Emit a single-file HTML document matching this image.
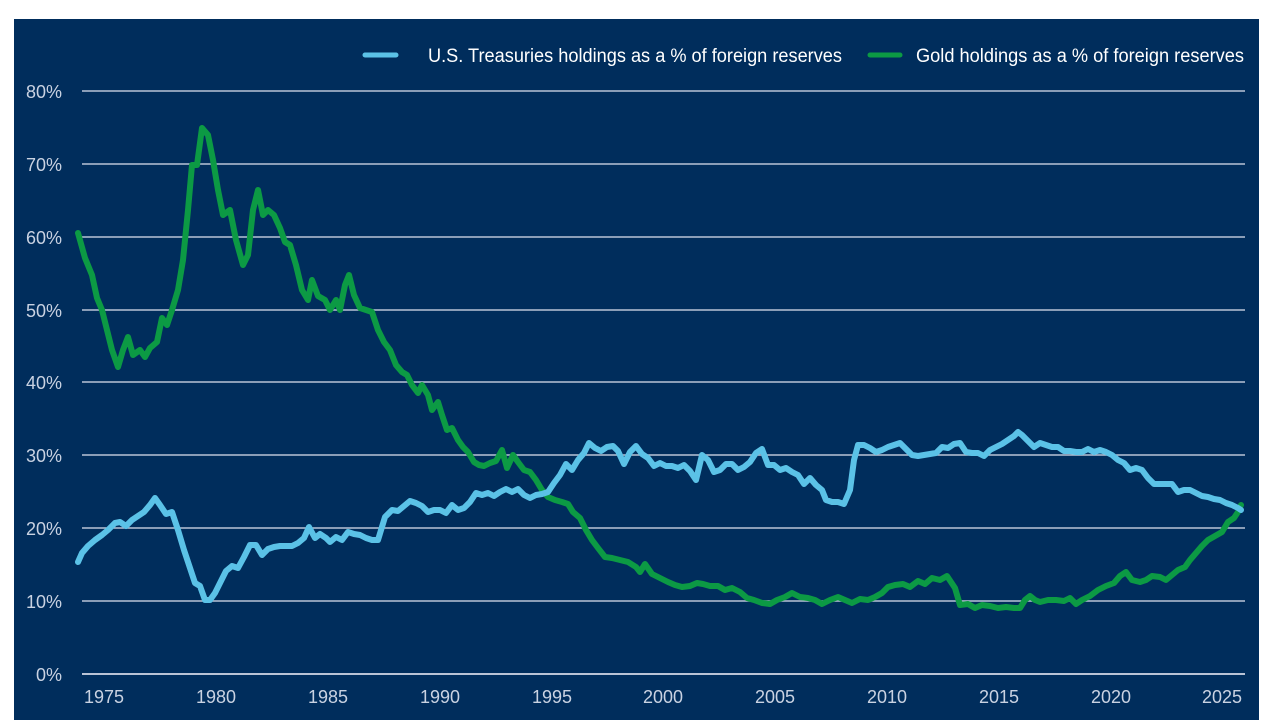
<!DOCTYPE html>
<html><head><meta charset="utf-8"><style>
html,body{margin:0;padding:0;background:#fff;width:1280px;height:720px;overflow:hidden}
svg{display:block}
text{font-family:"Liberation Sans Narrow","Liberation Sans",sans-serif;}
</style></head><body>
<svg width="1280" height="720" viewBox="0 0 1280 720">
<rect x="14" y="19" width="1245" height="701" fill="#002d5c"/>
<g stroke="#b9c3d6" stroke-width="1.5">
<line x1="82" x2="1245" y1="91" y2="91"/>
<line x1="82" x2="1245" y1="164" y2="164"/>
<line x1="82" x2="1245" y1="237" y2="237"/>
<line x1="82" x2="1245" y1="310" y2="310"/>
<line x1="82" x2="1245" y1="382" y2="382"/>
<line x1="82" x2="1245" y1="455" y2="455"/>
<line x1="82" x2="1245" y1="528" y2="528"/>
<line x1="82" x2="1245" y1="601" y2="601"/>
<line x1="82" x2="1245" y1="674" y2="674" stroke-width="2"/>
</g>
<g fill="#c9d2e2" font-size="18" text-anchor="end">
<text x="62" y="98">80%</text><text x="62" y="171">70%</text><text x="62" y="244">60%</text>
<text x="62" y="317">50%</text><text x="62" y="389">40%</text><text x="62" y="462">30%</text>
<text x="62" y="535">20%</text><text x="62" y="608">10%</text><text x="62" y="681">0%</text>
</g>
<g fill="#c9d2e2" font-size="18" text-anchor="middle">
<text x="104" y="703">1975</text><text x="216" y="703">1980</text><text x="328" y="703">1985</text>
<text x="440" y="703">1990</text><text x="552" y="703">1995</text><text x="663" y="703">2000</text>
<text x="775" y="703">2005</text><text x="887" y="703">2010</text><text x="999" y="703">2015</text>
<text x="1111" y="703">2020</text><text x="1222" y="703">2025</text>
</g>
<line x1="365" x2="396" y1="55" y2="55" stroke="#5bc2e7" stroke-width="5" stroke-linecap="round"/>
<text x="428" y="62" fill="#fff" font-size="19" textLength="414" lengthAdjust="spacingAndGlyphs">U.S. Treasuries holdings as a % of foreign reserves</text>
<line x1="870" x2="900" y1="55" y2="55" stroke="#0c9a44" stroke-width="5" stroke-linecap="round"/>
<text x="916" y="62" fill="#fff" font-size="19" textLength="328" lengthAdjust="spacingAndGlyphs">Gold holdings as a % of foreign reserves</text>
<g fill="none" stroke-width="6" stroke-linejoin="round" stroke-linecap="round">
<polyline stroke="#0c9a44" points="78,233 85,258 92,275 97,298 102,310 107,330 112,350 118,367 123,350 128,337 133,355 140,350 145,357 150,348 157,342 162,318 167,325 172,310 178,290 183,260 188,210 192,165 197,165 202,128 208,135 213,160 218,190 223,215 230,210 236,240 243,265 248,255 253,210 258,190 263,215 268,210 274,215 280,228 285,242 290,245 296,265 302,290 308,300 312,280 318,296 325,300 330,310 336,300 340,310 345,285 349,275 354,295 360,308 366,310 372,312 378,330 384,342 390,350 396,365 402,372 407,375 412,385 418,393 422,385 428,395 432,410 438,402 442,415 447,430 452,428 458,440 463,447 468,452 474,462 479,465 484,466 490,463 496,461 502,450 507,468 513,455 518,462 524,470 530,472 536,480 542,490 548,497 555,500 562,502 568,504 573,512 580,518 586,530 592,540 598,548 605,557 612,558 620,560 628,562 636,567 640,572 645,564 652,574 660,578 668,582 675,585 682,587 690,586 697,583 703,584 710,586 718,586 725,590 732,588 740,592 747,598 754,600 762,603 770,604 777,600 785,597 792,593 800,597 808,598 815,600 822,604 830,600 838,597 845,600 852,603 860,599 868,600 875,597 882,593 888,587 895,585 903,584 910,587 918,581 925,584 932,578 940,580 947,576 955,588 960,605 968,604 975,608 982,605 990,606 998,608 1006,607 1014,608 1020,608 1025,600 1030,596 1035,600 1040,602 1048,600 1056,600 1064,601 1070,598 1076,604 1082,600 1090,596 1098,590 1106,586 1114,583 1120,576 1126,572 1132,580 1140,582 1146,580 1152,576 1160,577 1166,580 1172,575 1178,570 1185,567 1190,560 1196,553 1202,546 1208,540 1215,536 1222,532 1228,522 1234,518 1238,512 1241,505"/>
<polyline stroke="#5bc2e7" points="78,562 82,553 88,546 95,540 102,535 108,530 115,523 120,522 126,526 132,520 138,516 144,512 150,505 155,498 160,505 166,514 172,512 178,530 184,550 190,568 195,583 200,586 205,600 210,600 215,593 220,583 226,571 232,566 238,568 244,557 250,545 256,545 262,555 268,549 274,547 280,546 286,546 292,546 298,543 304,538 309,527 315,538 320,534 326,538 330,542 336,537 342,540 348,532 354,534 360,535 366,538 372,540 378,540 385,517 392,510 398,511 404,506 410,501 416,503 422,506 428,512 434,510 440,510 446,513 452,505 458,510 464,508 470,502 476,493 482,495 488,493 494,496 500,492 506,489 512,492 518,489 524,495 530,498 536,495 542,494 548,492 554,483 560,475 566,464 572,470 578,460 584,453 589,443 595,448 601,451 607,447 613,446 618,451 624,464 630,452 636,446 642,454 648,458 654,466 660,463 666,466 672,466 678,468 684,465 690,471 696,480 702,455 708,460 714,472 720,470 726,464 732,464 738,470 744,467 750,462 756,453 762,449 768,465 774,465 780,470 786,468 792,472 798,475 804,484 810,478 816,485 822,490 826,500 832,502 838,502 844,504 850,490 854,460 858,445 864,445 870,448 876,452 882,450 888,447 894,445 900,443 906,449 912,455 918,456 924,455 930,454 936,453 942,447 948,448 954,444 960,443 966,452 972,453 978,453 984,456 990,450 996,447 1002,444 1008,440 1014,436 1018,432 1022,435 1028,441 1034,447 1040,443 1046,445 1052,447 1058,447 1064,451 1070,451 1076,452 1082,452 1088,449 1094,452 1100,450 1106,452 1112,455 1118,460 1124,463 1130,470 1136,468 1142,470 1148,478 1154,484 1160,484 1166,484 1172,484 1178,492 1184,490 1190,490 1196,493 1202,496 1208,497 1214,499 1220,500 1226,503 1232,505 1238,508 1241,510"/>
</g>
</svg>
</body></html>
